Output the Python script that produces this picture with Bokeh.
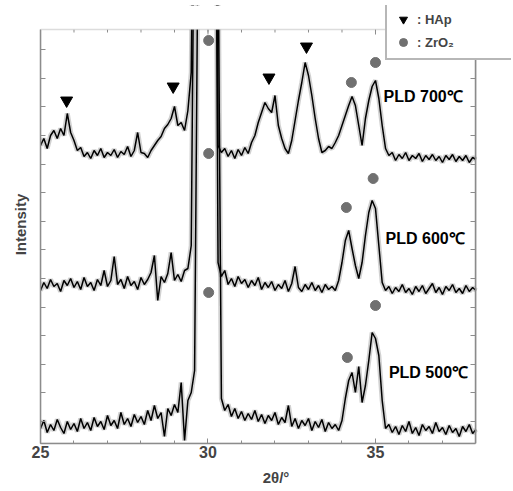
import numpy as np
from bokeh.plotting import figure
from bokeh.models import (Range1d, LinearAxis, FixedTicker, Label, Legend, LegendItem,
                          CustomJSTickFormatter, BoxAnnotation)
from bokeh.embed import file_html
from bokeh.resources import INLINE

# 2theta scan grid (deg), step 0.1
two_theta = np.round(np.arange(25.0, 38.05, 0.1), 1)

# intensities (a.u., already vertically offset)
pld_700 = [
    298, 305, 295, 308, 313, 305, 315, 308, 330, 311,
    303, 293, 296, 287, 291, 285, 293, 288, 295, 286,
    291, 288, 294, 286, 292, 289, 297, 287, 293, 311,
    291, 290, 286, 293, 298, 303, 307, 315, 319, 325,
    337, 318, 321, 313, 333, 371, 700, 1400, 1900, 2100,
    2000, 1600, 900, 298, 291, 295, 287, 293, 285, 294,
    288, 296, 290, 301, 308, 321, 331, 341, 335, 331,
    348, 318, 305, 295, 290, 303, 323, 343, 361, 381,
    368, 348, 325, 305, 291, 293, 297, 295, 301, 308,
    318, 328, 338, 347, 338, 318, 298, 325, 343, 357,
    363, 345, 318, 295, 288, 291, 283, 289, 285, 291,
    283, 288, 285, 290, 282, 288, 284, 289, 283, 287,
    281, 288, 284, 289, 282, 287, 283, 288, 281, 286,
    284,
]
pld_600 = [
    153, 161, 155, 164, 157, 160, 152, 163, 158, 165,
    156, 162, 154, 166, 157, 161, 153, 164, 158, 173,
    157, 163, 187, 159, 164, 155, 167, 158, 162, 154,
    166, 159, 164, 171, 188, 143, 167, 161, 170, 191,
    163, 169, 162, 173, 175, 198, 600, 1300, 1800, 2000,
    1900, 1500, 800, 181, 167, 173, 159, 165, 157, 167,
    160, 164, 156, 163, 158, 166, 154, 161, 156, 162,
    153, 159, 155, 163, 152, 160, 177, 156, 152, 159,
    154, 161, 153, 158, 151, 159, 154, 157, 153, 163,
    181, 203, 213, 195, 178, 165, 181, 208, 231, 243,
    235, 198, 161, 153, 157, 150, 156, 152, 159, 151,
    155, 149, 157, 152, 158, 150, 155, 160, 151, 156,
    149, 157, 153, 159, 151, 155, 150, 158, 152, 156,
    153,
]
pld_500 = [
    15, 23, 11, 19, 13, 24, 16, 10, 22, 14,
    20, 12, 25, 15, 21, 13, 26, 17, 22, 14,
    28, 18, 23, 15, 31, 19, 25, 17, 29, 21,
    27, 19, 33, 23, 38, 25, 31, 7, 35, 28,
    39, 31, 61, 3, 43, 51, 73, 500, 1200, 1700,
    1900, 1700, 1200, 500, 45, 33, 39, 27, 35, 25,
    32, 23, 30, 24, 33, 22, 29, 20, 28, 23,
    31, 19, 26, 21, 38, 17, 25, 15, 23, 18,
    25, 13, 22, 16, 24, 12, 21, 15, 19, 13,
    23, 45, 63, 71, 51, 77, 41, 58, 83, 111,
    105, 88, 43, 15, 19, 11, 17, 9, 18, 12,
    22, 10, 16, 8, 19, 13, 17, 10, 21, 12,
    16, 9, 18, 11, 15, 7, 17, 12, 19, 10,
    14,
]

# phase markers
hap_x = [25.78, 28.96, 31.82, 32.94]
hap_y = [343, 357, 366, 397]
zro2_x = [30.02, 34.28, 35.0, 30.02, 34.13, 34.93, 30.02, 34.16, 35.0]
zro2_y = [403, 361, 381, 290, 236, 265, 151, 86, 138]

sample_labels = ["PLD 700℃", "PLD 600℃", "PLD 500℃"]
label_x = [35.24, 35.3, 35.4]
label_y = [347, 205, 71]

x_major = [25, 30, 35]
x_minor = list(range(25, 39))
y_ticks = [22 + 28.6 * k for k in range(14)]

# plotted window (axes box) and the extra room used by the legend
X0, X1 = 25, 38
Y0, Y1 = 0, 414
X_ROOM, Y_ROOM = 39.06, 438

FONT = "Liberation Sans"
GREY = "#8c8c8c"

p = figure(width=513, height=491, x_range=Range1d(X0, X_ROOM), y_range=Range1d(Y0, Y_ROOM),
           output_backend="svg", toolbar_location=None,
           min_border_left=40, min_border_right=2, min_border_top=5, min_border_bottom=48)
p.grid.visible = False
p.outline_line_color = None
p.background_fill_color = "white"
p.border_fill_color = "white"

for s in (pld_700, pld_600, pld_500):
    p.line(two_theta, s, line_color="#9a9a9a", line_width=5, line_alpha=0.45)
for s in (pld_700, pld_600, pld_500):
    p.line(two_theta, s, line_color="black", line_width=1.5)

# inward ticks along the top edge of the axes box
p.segment(x0=x_minor, y0=[Y1] * len(x_minor), x1=x_minor, y1=[Y1 - 3] * len(x_minor),
          line_color=GREY, line_width=1)
p.segment(x0=x_major, y0=[Y1] * len(x_major), x1=x_major, y1=[Y1 - 5] * len(x_major),
          line_color=GREY, line_width=1)

r_hap = p.scatter(hap_x, hap_y, marker="inverted_triangle", size=12, fill_color="black", line_color="black")
r_zro = p.scatter(zro2_x, zro2_y, marker="circle", size=10, fill_color="#707070", line_color="#707070")

# white mask above the axes box (off-scale peak tops end at the box edge), then the box itself
p.add_layout(BoxAnnotation(bottom=Y1, left=X0 - 0.3, right=X1 + 0.05, fill_color="white",
                           fill_alpha=1.0, line_color=None))
p.add_layout(BoxAnnotation(bottom=Y0, top=Y1, left=X0, right=X1, fill_color=None, fill_alpha=0,
                           line_color=GREY, line_width=1.5))

for t, lx, ly in zip(sample_labels, label_x, label_y):
    p.add_layout(Label(x=lx, y=ly, text=t, text_font=FONT, text_font_style="bold",
                       text_font_size="16px", text_baseline="middle", text_color="black"))

blank = CustomJSTickFormatter(code="return '';")

def style_axis(ax, labels=True):
    ax.axis_line_color = GREY
    ax.axis_line_width = 1.5
    ax.major_tick_line_color = GREY
    ax.minor_tick_line_color = GREY
    ax.major_tick_in = 5
    ax.major_tick_out = 0
    ax.minor_tick_in = 3
    ax.minor_tick_out = 0
    ax.major_label_text_font = FONT
    ax.major_label_text_font_style = "bold"
    ax.major_label_text_font_size = "16px"
    ax.major_label_standoff = 2
    if not labels:
        ax.formatter = blank
        ax.major_label_standoff = 0
        ax.major_label_text_font_size = "2px"
    ax.axis_label_text_font = FONT
    ax.axis_label_text_font_style = "bold"
    ax.axis_label_text_font_size = "15px"
    ax.axis_label_standoff = 4

p.xaxis.ticker = FixedTicker(ticks=x_major, minor_ticks=x_minor)
p.xaxis.axis_label = "2θ/°"
p.xaxis.bounds = (X0, X1)
style_axis(p.xaxis[0])
p.xaxis.axis_label_standoff = 8
p.yaxis.ticker = FixedTicker(ticks=y_ticks, minor_ticks=[])
p.yaxis.axis_label = "Intensity"
p.yaxis.bounds = (Y0, Y1)
style_axis(p.yaxis[0], labels=False)
p.yaxis.axis_label_standoff = 12

right = LinearAxis(ticker=FixedTicker(ticks=y_ticks, minor_ticks=[]),
                   fixed_location=X1, bounds=(Y0, Y1))
style_axis(right, labels=False)
p.add_layout(right, "right")

legend = Legend(items=[LegendItem(label=": HAp", renderers=[r_hap]),
                       LegendItem(label=": ZrO₂", renderers=[r_zro])],
                location=(345, 383), padding=6, spacing=3, glyph_width=20, glyph_height=20,
                label_standoff=4, label_width=91,
                label_text_font=FONT, label_text_font_style="bold", label_text_font_size="13px",
                border_line_color="#707070", border_line_width=2, background_fill_color="white",
                background_fill_alpha=1.0)
p.add_layout(legend, "center")

open("out.html", "w").write(file_html(p, INLINE))
